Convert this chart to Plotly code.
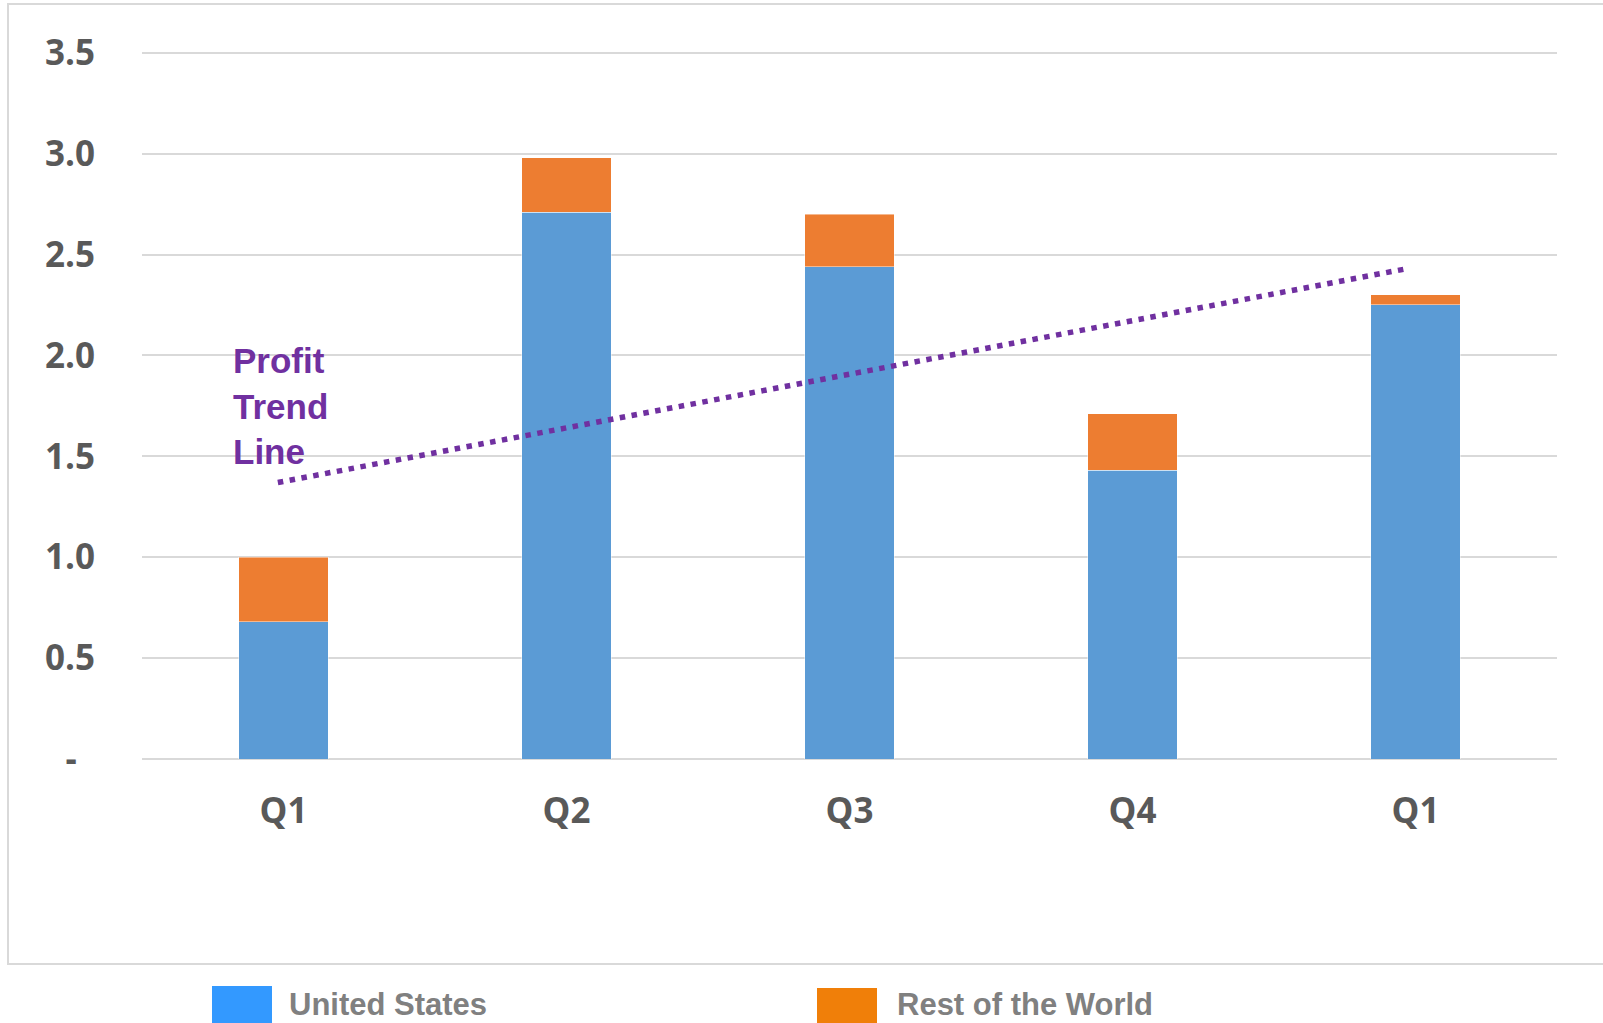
import plotly.graph_objects as go

# ---- data ----
quarters = ["Q1", "Q2", "Q3", "Q4", "Q1"]
united_states = [0.68, 2.71, 2.44, 1.43, 2.25]
rest_of_world = [0.32, 0.27, 0.26, 0.28, 0.05]
trend_x = [-0.02, 3.97]
trend_y = [1.37, 2.43]
y_ticks = [0, 0.5, 1.0, 1.5, 2.0, 2.5, 3.0, 3.5]
y_ticktext = ["-\u00a0\u00a0", "0.5", "1.0", "1.5", "2.0", "2.5", "3.0", "3.5"]

# ---- geometry (pixels) ----
W, H = 1603, 1023
L, R, T, B = 142, 46, 42, 264
PW, PH = W - L - R, H - T - B


def px_x(px):
    return (px - L) / PW


def px_y(py):
    return (H - B - py) / PH


xs = list(range(len(quarters)))

fig = go.Figure()
fig.add_trace(go.Bar(
    x=xs, y=united_states, name="United States", width=0.315,
    marker=dict(color="#5b9bd5", line=dict(color="rgba(255,255,255,0.45)", width=1)),
))
fig.add_trace(go.Bar(
    x=xs, y=rest_of_world, name="Rest of the World", width=0.315,
    marker=dict(color="#ed7d31", line=dict(color="rgba(255,255,255,0.45)", width=1)),
))
fig.add_trace(go.Scatter(
    x=trend_x, y=trend_y, mode="lines",
    line=dict(color="#7030a0", width=5.5, dash="5.5px,6.5px"),
    showlegend=False,
))

tick_font = dict(family="Open Sans, Segoe UI, Arial", size=35, color="#595959", weight="bold")

fig.update_layout(
    width=W, height=H,
    margin=dict(l=L, r=R, t=T, b=B, pad=0),
    barmode="stack",
    showlegend=False,
    plot_bgcolor="white",
    paper_bgcolor="white",
    xaxis=dict(
        range=[-0.5, 4.5], tickvals=xs, ticktext=quarters,
        showgrid=False, zeroline=False, showline=False, ticks="",
        tickfont=tick_font, ticklabelstandoff=28, fixedrange=True,
    ),
    yaxis=dict(
        range=[0, PH / 201.8], tickvals=y_ticks, ticktext=y_ticktext,
        showgrid=True, gridcolor="#d9d9d9", gridwidth=2,
        zeroline=True, zerolinecolor="#d9d9d9", zerolinewidth=2,
        showline=False, ticks="", tickfont=tick_font,
        ticklabelstandoff=46, fixedrange=True,
    ),
)

shapes = [
    # outer chart frame
    dict(type="rect", xref="paper", yref="paper",
         x0=px_x(8), x1=px_x(1615), y0=px_y(964), y1=px_y(4),
         line=dict(color="#d9d9d9", width=2), fillcolor="rgba(0,0,0,0)", layer="below"),
    # legend swatches
    dict(type="rect", xref="paper", yref="paper",
         x0=px_x(212), x1=px_x(272), y0=px_y(1030), y1=px_y(986),
         line=dict(width=0), fillcolor="#3399ff"),
    dict(type="rect", xref="paper", yref="paper",
         x0=px_x(817), x1=px_x(877), y0=px_y(1030), y1=px_y(988),
         line=dict(width=0), fillcolor="#f07f09"),
]
fig.update_layout(shapes=shapes)

legend_font = dict(family="Liberation Sans, Arial", size=31, color="#808080")
annotations = [
    dict(text="<b>United States</b>", xref="paper", yref="paper",
         x=px_x(287), y=px_y(1005), xanchor="left", yanchor="middle",
         showarrow=False, font=legend_font),
    dict(text="<b>Rest of the World</b>", xref="paper", yref="paper",
         x=px_x(895), y=px_y(1005), xanchor="left", yanchor="middle",
         showarrow=False, font=legend_font),
    dict(text="<b>Profit<br>Trend<br>Line</b>", xref="paper", yref="paper",
         x=px_x(231), y=px_y(339), xanchor="left", yanchor="top", align="left",
         showarrow=False,
         font=dict(family="Liberation Sans, Arial", size=35, color="#7030a0")),
]
fig.update_layout(annotations=annotations)

fig.write_html("out.html")
